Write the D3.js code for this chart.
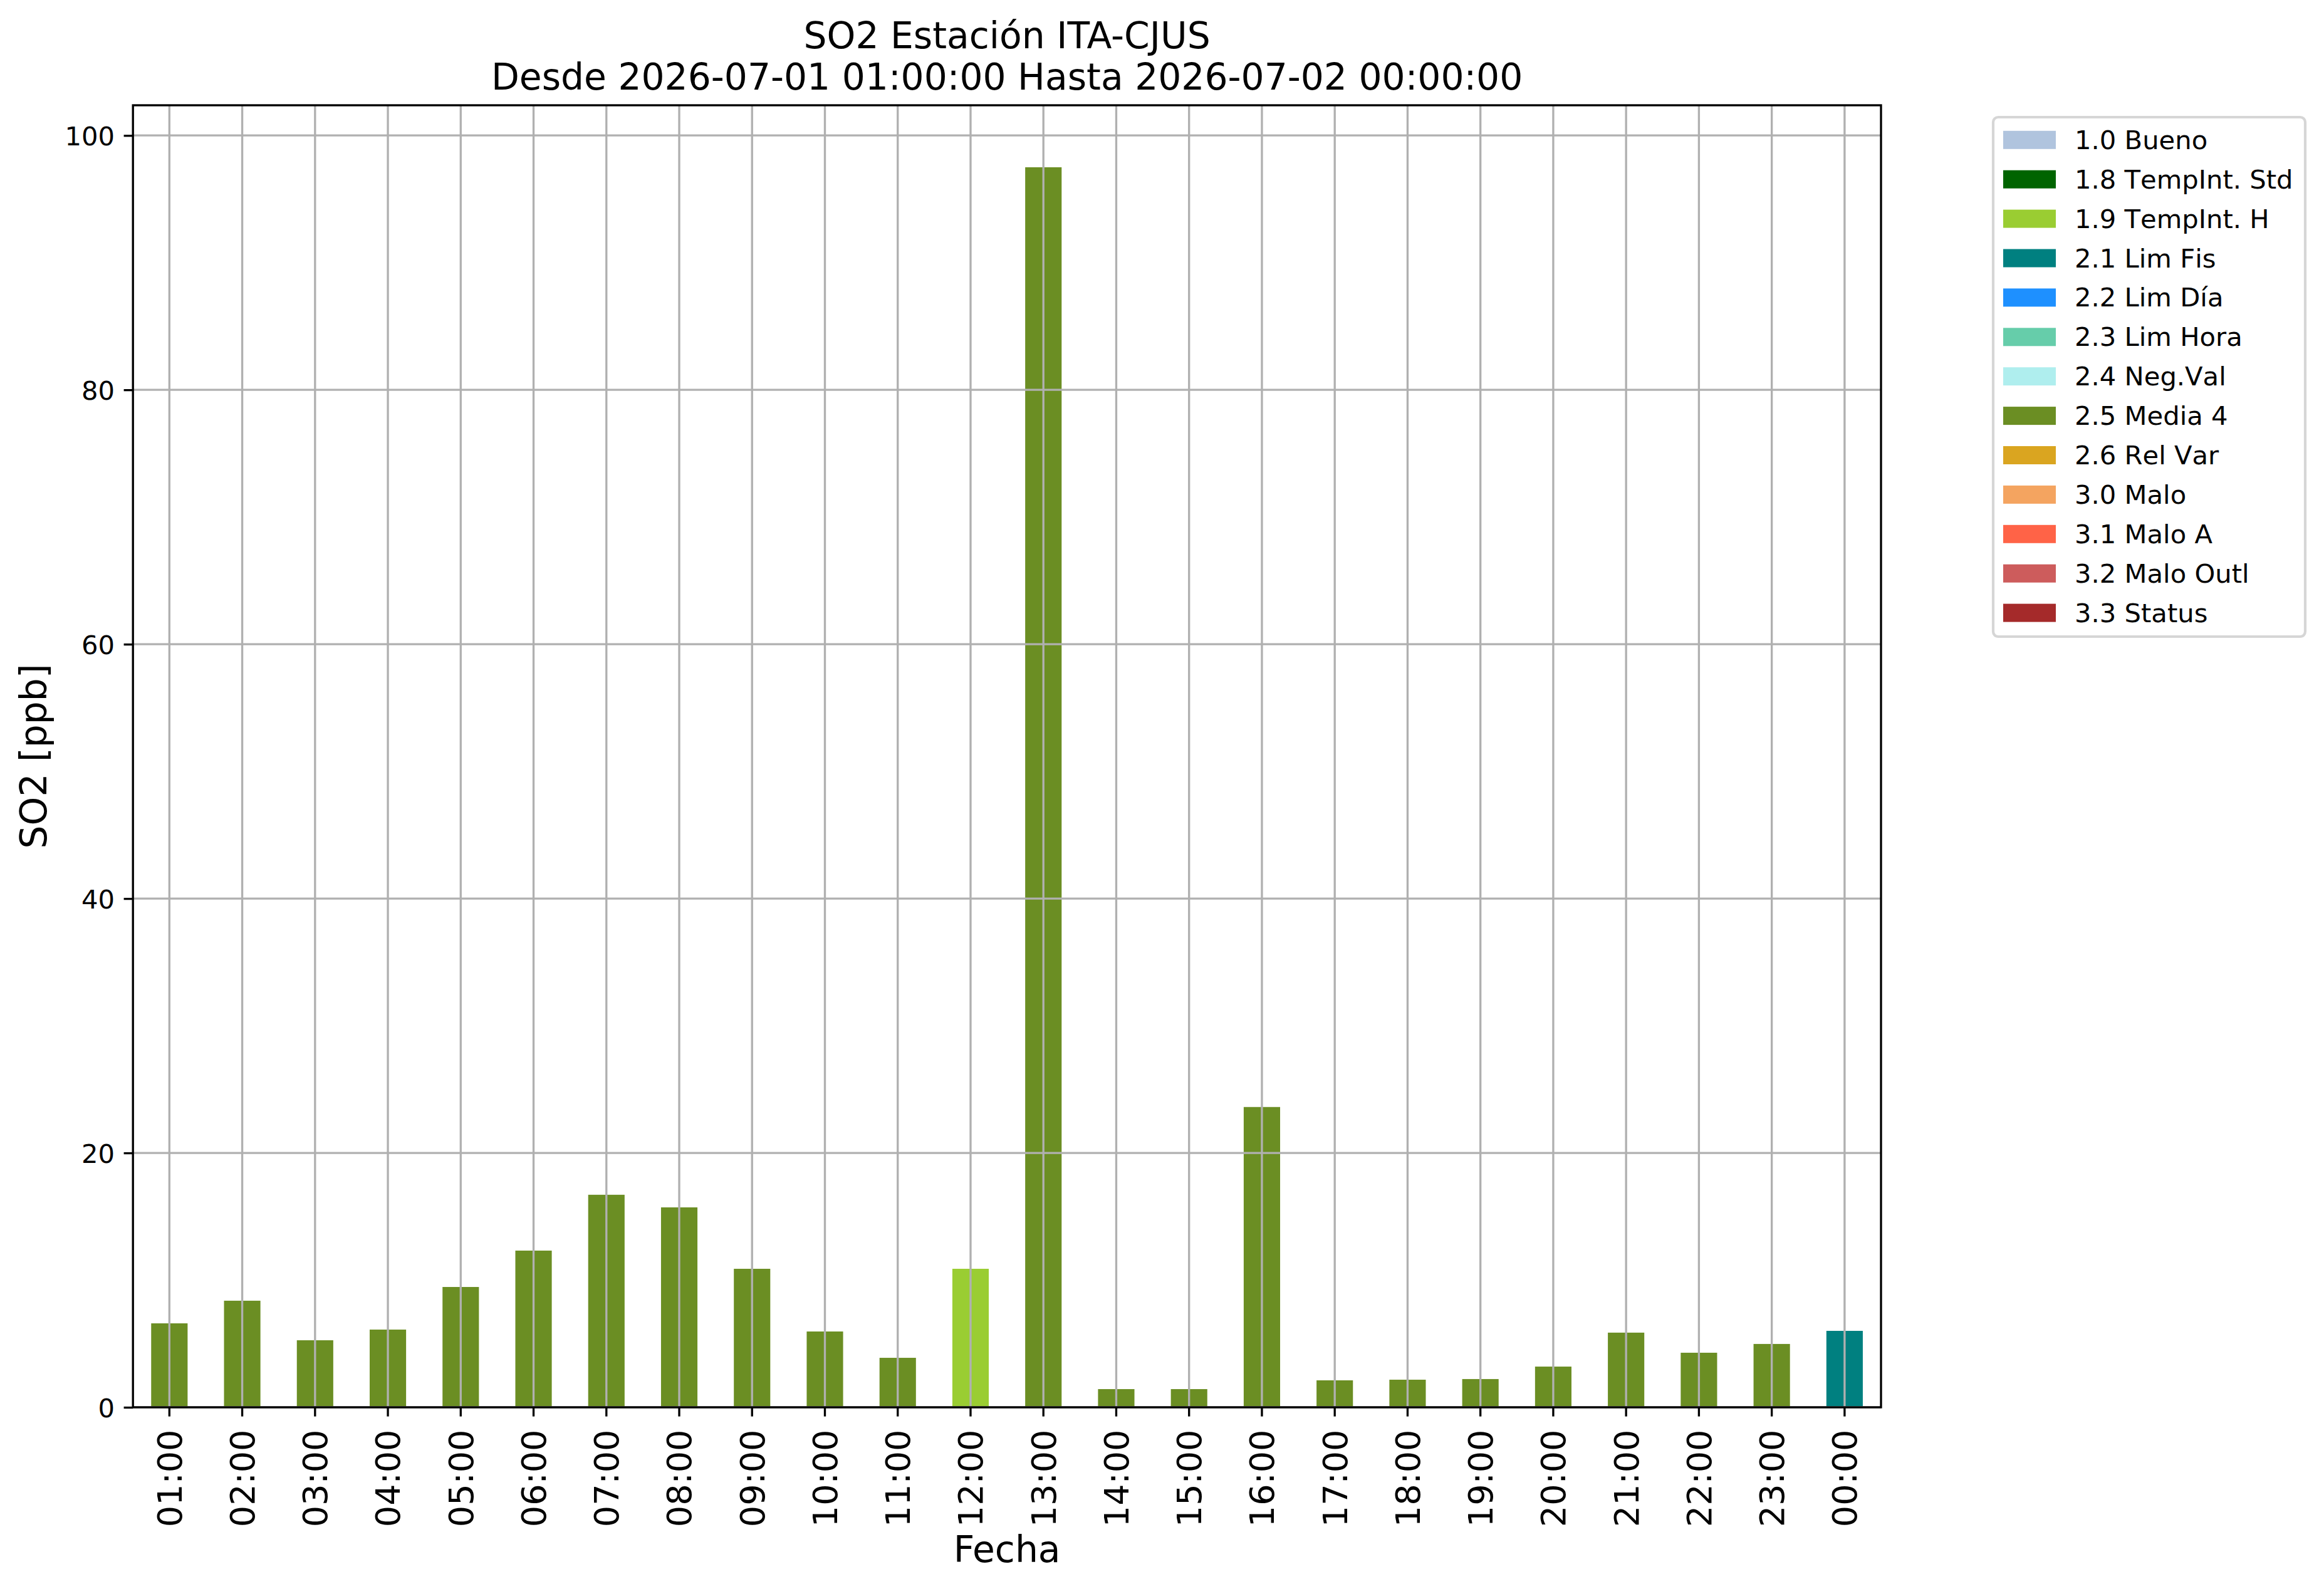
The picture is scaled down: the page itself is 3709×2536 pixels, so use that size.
<!DOCTYPE html>
<html>
<head>
<meta charset="utf-8">
<script src="https://cdn.jsdelivr.net/npm/d3@7"></script>
<style>
html,body{margin:0;padding:0;background:#fff;}
svg{display:block;}
text{font-family:"DejaVu Sans",sans-serif;fill:#000;}
.item text{font-kerning:none;}
</style>
</head>
<body>
<script>
// ---- data ----
const hours = ["01:00","02:00","03:00","04:00","05:00","06:00","07:00","08:00","09:00","10:00","11:00","12:00",
               "13:00","14:00","15:00","16:00","17:00","18:00","19:00","20:00","21:00","22:00","23:00","00:00"];
const so2 = [6.60, 8.38, 5.27, 6.11, 9.46, 12.32, 16.71, 15.72, 10.89, 5.96, 3.89, 10.89,
             97.5, 1.43, 1.43, 23.61, 2.12, 2.17, 2.22, 3.20, 5.87, 4.29, 4.98, 6.01];
const flags = ["2.5","2.5","2.5","2.5","2.5","2.5","2.5","2.5","2.5","2.5","2.5","1.9",
               "2.5","2.5","2.5","2.5","2.5","2.5","2.5","2.5","2.5","2.5","2.5","2.1"];
const legendCodes = ["1.0","1.8","1.9","2.1","2.2","2.3","2.4","2.5","2.6","3.0","3.1","3.2","3.3"];
const legendNames = ["Bueno","TempInt. Std","TempInt. H","Lim Fis","Lim Día","Lim Hora","Neg.Val","Media 4","Rel Var","Malo","Malo A","Malo Outl","Status"];
const legendColors = ["#b0c4de","#006400","#9acd32","#008080","#1e90ff","#66cdaa","#afeeee","#6b8e23","#daa520","#f4a460","#ff6347","#cd5c5c","#a52a2a"];
const yTicks = [0,20,40,60,80,100];
const titleLines = ["SO2 Estación ITA-CJUS","Desde 2026-07-01 01:00:00 Hasta 2026-07-02 00:00:00"];
const xLabel = "Fecha", yLabel = "SO2 [ppb]";

// ---- layout ----
const W = 3709, H = 2536;
const L = 212.2, R = 3002, T = 168, B = 2246;
const lw = 3.33, tickLen = 14.6, pad = 14.6;

const svg = d3.select("body").append("svg").attr("width", W).attr("height", H);
svg.append("rect").attr("width", W).attr("height", H).attr("fill", "#fff");

const x = d3.scaleBand().domain(hours).range([L, R]).paddingInner(0.5).paddingOuter(0.25);
const yMax = d3.max(so2) * 1.05;
const y = d3.scaleLinear().domain([0, yMax]).range([B, T]);
const color = d3.scaleOrdinal().domain(legendCodes).range(legendColors);

const data = hours.map((h, i) => ({h, v: so2[i], f: flags[i]}));

// bars
svg.append("g").selectAll("rect").data(data).join("rect")
  .attr("x", d => x(d.h))
  .attr("width", x.bandwidth())
  .attr("y", d => y(d.v))
  .attr("height", d => y(0) - y(d.v))
  .attr("fill", d => color(d.f));

// grid (above bars)
const grid = svg.append("g").attr("stroke", "#b0b0b0").attr("stroke-width", lw);
grid.selectAll("line.v").data(hours).join("line").attr("class","v")
  .attr("x1", d => x(d) + x.bandwidth()/2).attr("x2", d => x(d) + x.bandwidth()/2)
  .attr("y1", T).attr("y2", B);
grid.selectAll("line.h").data(yTicks).join("line").attr("class","h")
  .attr("x1", L).attr("x2", R).attr("y1", d => y(d)).attr("y2", d => y(d));

// axes
const xAxis = d3.axisBottom(x).tickSizeInner(tickLen).tickSizeOuter(0).tickPadding(pad);
const gx = svg.append("g").attr("transform", `translate(0,${B})`).call(xAxis);
gx.select(".domain").remove();
gx.selectAll(".tick line").attr("stroke", "#000").attr("stroke-width", lw);
gx.selectAll(".tick text")
  .attr("font-size", 54).attr("font-family", "DejaVu Sans")
  .attr("text-anchor", "end")
  .attr("transform", `translate(0,${tickLen + 21}) rotate(-90)`)
  .attr("x", 0).attr("y", 0).attr("dy", "0.36em");

const yAxis = d3.axisLeft(y).tickValues(yTicks).tickFormat(d3.format("d")).tickSizeInner(tickLen).tickSizeOuter(0).tickPadding(pad);
const gy = svg.append("g").attr("transform", `translate(${L},0)`).call(yAxis);
gy.select(".domain").remove();
gy.selectAll(".tick line").attr("stroke", "#000").attr("stroke-width", lw);
gy.selectAll(".tick text").attr("font-size", 41.7).attr("font-family", "DejaVu Sans").attr("dy", "0.36em");

// spines
svg.append("rect").attr("x", L).attr("y", T).attr("width", R - L).attr("height", B - T)
  .attr("fill", "none").attr("stroke", "#000").attr("stroke-width", lw);

// title
const title = svg.append("text").attr("x", (L + R) / 2).attr("text-anchor", "middle").attr("font-size", 58.3);
title.selectAll("tspan").data(titleLines).join("tspan")
  .attr("x", (L + R) / 2).attr("y", (d, i) => 76.7 + i * 66.7).text(d => d);

// axis labels
svg.append("text").attr("x", (L + R) / 2).attr("y", 2493).attr("text-anchor", "middle")
  .attr("font-size", 58.3).text(xLabel);
svg.append("text").attr("transform", `translate(74,${(T + B) / 2}) rotate(-90)`)
  .attr("text-anchor", "middle").attr("font-size", 58.3).text(yLabel);

// legend
const lg = svg.append("g");
const lx = 3181, ly = 187, lW = 498, lH = 829;
lg.append("rect").attr("x", lx).attr("y", ly).attr("width", lW).attr("height", lH)
  .attr("rx", 8).attr("ry", 8).attr("fill", "#fff").attr("stroke", "#d6d6d6").attr("stroke-width", 4.2);
const rowStep = 62.9, firstTop = 208.8;
const items = lg.selectAll("g.item").data(legendCodes).join("g").attr("class", "item")
  .attr("transform", (d, i) => `translate(0,${firstTop + i * rowStep})`);
items.append("rect").attr("x", 3197).attr("y", 0).attr("width", 84).attr("height", 29)
  .attr("fill", (d, i) => legendColors[i]);
items.append("text").attr("x", 3311).attr("y", 29).attr("font-size", 41.7)
  .text((d, i) => d + " " + legendNames[i]);
</script>
</body>
</html>
